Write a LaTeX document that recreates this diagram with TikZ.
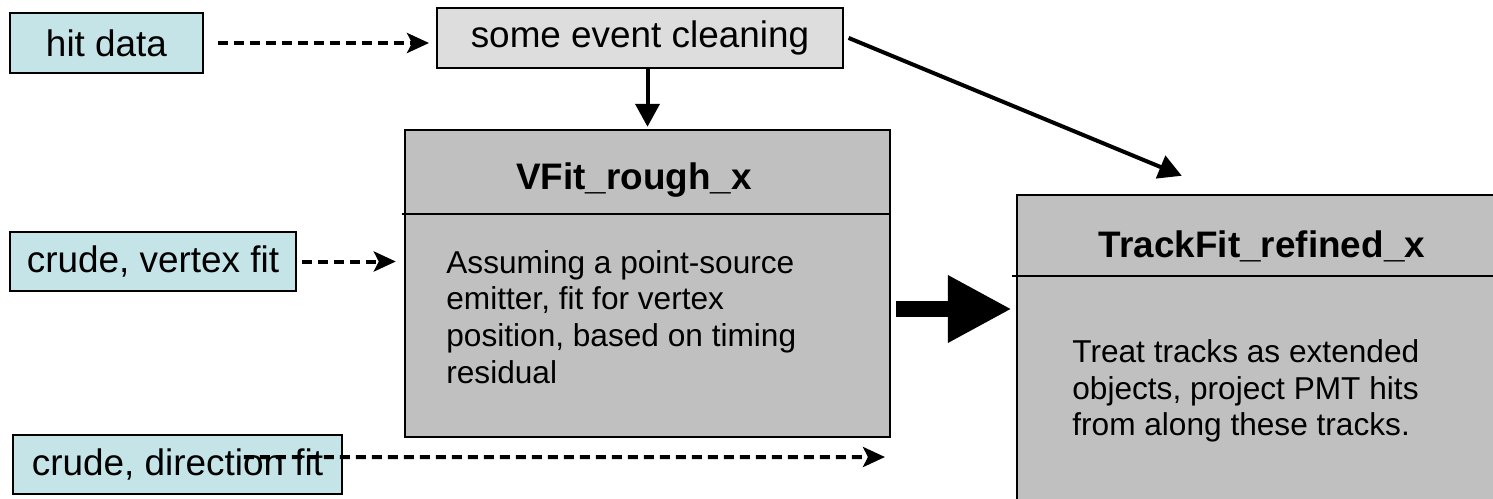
\documentclass[tikz,border=0pt]{standalone}
\usepackage{fontspec}
\setmainfont{Liberation Sans}
\usepackage{xcolor}
\usepackage{tikz}
\usetikzlibrary{arrows.meta, calc}

\definecolor{seedcyan}{RGB}{196,228,232}
\definecolor{cleangray}{RGB}{221,221,221}
\definecolor{fitgray}{RGB}{192,192,192}

\begin{document}
\begin{tikzpicture}[x=0.02cm, y=-0.02cm,
    seed/.style={draw, line width=0.04cm, fill=seedcyan, minimum height=1.19cm, inner sep=0pt, font=\fontsize{21}{25}\selectfont},
    stage/.style={draw, line width=0.04cm, fill=cleangray, minimum height=1.2cm, inner sep=0pt, font=\fontsize{21}{25}\selectfont},
    fitbox/.style={draw, line width=0.05cm, fill=fitgray, inner sep=0pt},
    fittitle/.style={anchor=base, inner sep=0pt, font=\fontsize{21}{25}\selectfont\bfseries},
    fitbody/.style={anchor=north west, align=left, inner sep=0pt, font=\fontsize{18}{20.9}\selectfont},
    guess/.style={line width=0.08cm, dash pattern=on 0.2cm off 0.12cm, -{Stealth[length=0.44cm, width=0.4cm, inset=0.1cm]}},
    flow/.style={line width=0.08cm, -{Triangle[length=0.46cm, width=0.48cm]}},
    handoff/.style={line width=0.32cm, -{Triangle[length=1.28cm, width=1.26cm]}}
]
    \useasboundingbox (0,0) rectangle (1493,498);
    \clip (0,0) rectangle (1493,498);

    % inputs and pre-selection
    \node[seed, minimum width=3.86cm] (hit) at (106.5,43) {hit data};
    \node[stage, minimum width=8.12cm] (clean) at (640,38) {some event cleaning};
    \node[seed, minimum width=5.72cm] (vtx) at (153,261.5) {crude, vertex fit};
    \node[seed, minimum width=6.58cm] (dir) at (177.5,464.5) {crude, direction fit};

    % the two fitting stages
    \node[fitbox, minimum width=9.7cm, minimum height=6.14cm] (vfit) at (647.5,283.5) {};
    \draw[line width=0.04cm] ($(vfit.north west)+(-2,85)$) -- ($(vfit.north east)+(0,85)$);
    \node[fittitle] (vfittitle) at (634,189) {VFit\_rough\_x};
    \node[fitbody] (vfitbody) at (446,250) {Assuming a point-source\\emitter, fit for vertex\\position, based on timing\\residual};

    \node[fitbox, minimum width=9.8cm, minimum height=7.3cm] (track) at (1262,377.5) {};
    \draw[line width=0.04cm] ($(track.north west)+(-4,82.5)$) -- ($(track.north east)+(0,82.5)$);
    \node[fittitle] (tracktitle) at (1262,257) {TrackFit\_refined\_x};
    \node[fitbody] (trackbody) at (1072,339) {Treat tracks as extended\\objects, project PMT hits\\from along these tracks.};

    \coordinate (dirend) at (885,457);
    \coordinate (trackin) at ($(track.north west)+(166,-18)$);

    % connections
    \draw[guess, shorten <=0.28cm, shorten >=0.14cm] (hit.east) -- (hit.east -| clean.west);
    \draw[guess, shorten <=0.1cm, shorten >=0.16cm] (vtx.east) -- (vtx.east -| vfit.west);
    \draw[guess] ([xshift=-1.98cm, yshift=0.15cm]dir.east) -- (dirend);
    \draw[flow, shorten >=0.04cm] (vfit.north |- clean.south) -- (vfit.north);
    \draw[flow, shorten <=0.1cm] ([yshift=0.04cm]clean.east) -- (trackin);
    \draw[handoff, shorten <=0.1cm, shorten >=0.08cm] ([yshift=-0.51cm]vfit.east) -- ([yshift=-0.51cm]vfit.east -| track.west);
\end{tikzpicture}
\end{document}
